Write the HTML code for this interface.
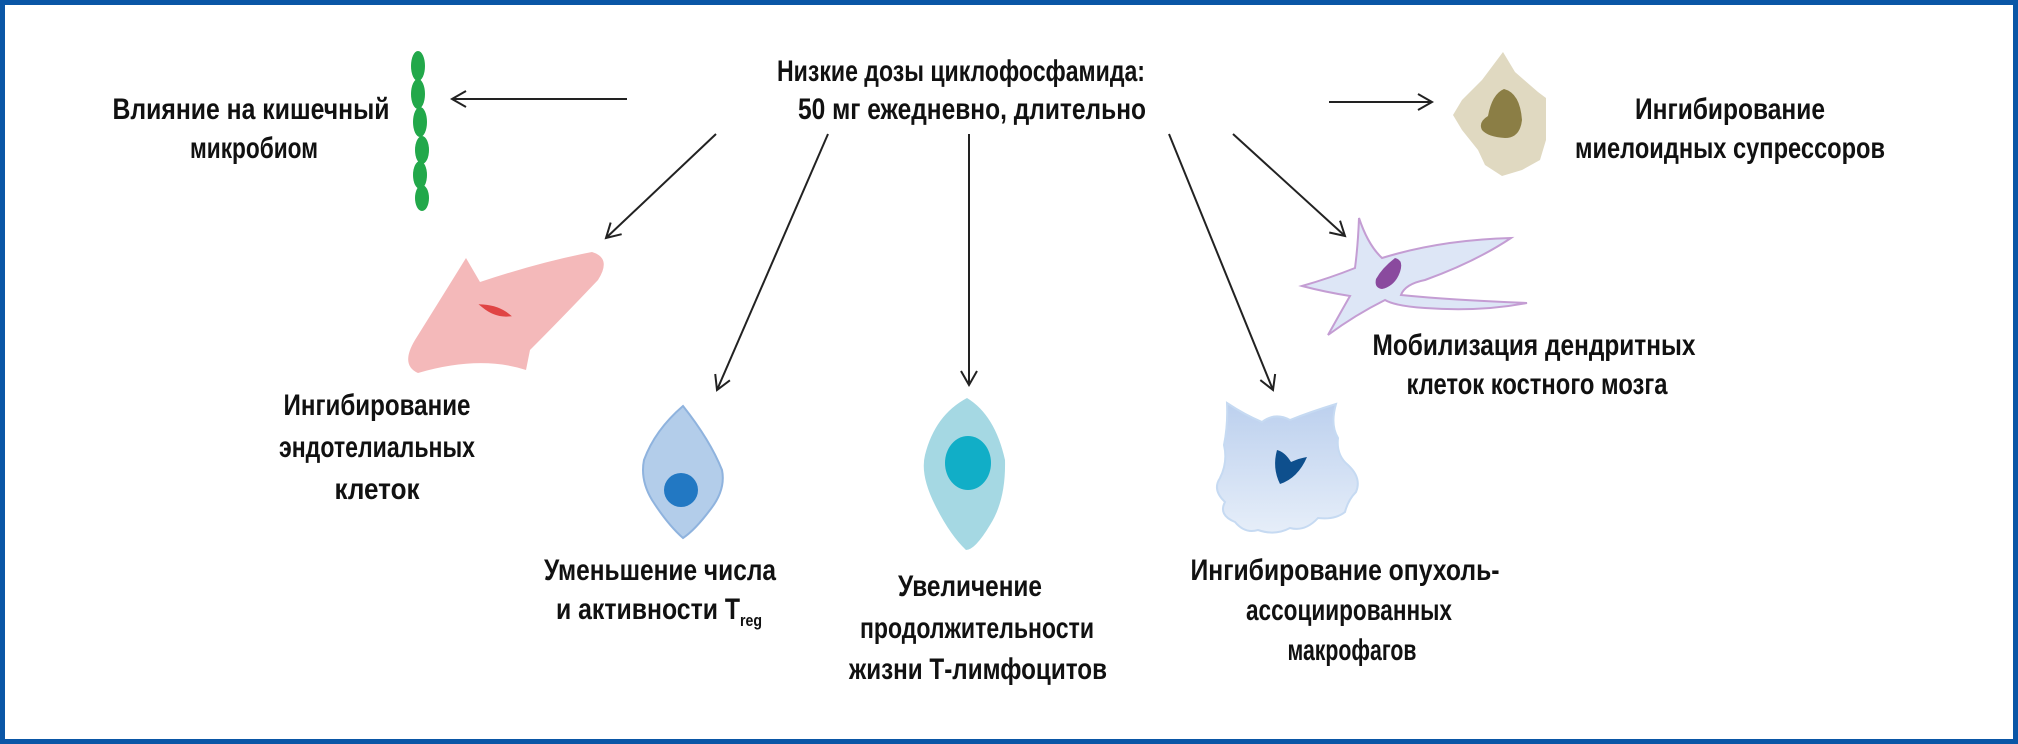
<!DOCTYPE html>
<html><head><meta charset="utf-8"><style>
html,body{margin:0;padding:0;background:#fff}
svg{display:block}
text{font-family:"Liberation Sans",sans-serif;font-weight:bold;font-size:30px;fill:#111}
</style></head><body>
<svg width="2018" height="744" viewBox="0 0 2018 744" xmlns="http://www.w3.org/2000/svg">
<defs>
<marker id="ah" markerWidth="20" markerHeight="20" refX="16" refY="10" orient="auto" markerUnits="userSpaceOnUse">
<path d="M2,2 L16,10 L2,18" fill="none" stroke="#222" stroke-width="2"/>
</marker>
<linearGradient id="tam" x1="0" y1="0" x2="0" y2="1"><stop offset="0" stop-color="#bcd0ee"/><stop offset="1" stop-color="#e6eef9"/></linearGradient>
</defs>
<rect x="2.5" y="2.5" width="2013" height="739" fill="#fff" stroke="#0a56a6" stroke-width="5"/>

<g stroke="#222" stroke-width="2" fill="none" marker-end="url(#ah)">
<line x1="627" y1="99" x2="452" y2="99"/>
<line x1="1329" y1="102" x2="1432" y2="102"/>
<line x1="716" y1="134" x2="606" y2="238"/>
<line x1="828" y1="134" x2="717" y2="390"/>
<line x1="969" y1="134" x2="969" y2="385"/>
<line x1="1169" y1="134" x2="1273" y2="390"/>
<line x1="1233" y1="134" x2="1345" y2="236"/>
</g>

<g fill="#22a84a">
<ellipse cx="418" cy="66" rx="7" ry="15"/>
<ellipse cx="418" cy="94" rx="7" ry="15"/>
<ellipse cx="420" cy="122" rx="7" ry="15"/>
<ellipse cx="422" cy="150" rx="7" ry="14"/>
<ellipse cx="420" cy="175" rx="7" ry="14"/>
<ellipse cx="422" cy="198" rx="7" ry="13"/>
</g>

<!-- myeloid suppressor -->
<path d="M1503,52 L1515,72 L1538,92 L1546,98 L1546,140 L1540,160 L1522,170 L1502,176 L1485,165 L1478,150 L1462,130 L1453,115 L1462,100 L1482,80 Z" fill="#e0d9c1"/>
<path d="M1504,89 Q1520,93 1522,120 Q1520,138 1505,138 Q1488,137 1482,130 Q1478,122 1488,116 Q1492,94 1504,89 Z" fill="#8b7e45"/>

<!-- endothelial -->
<path d="M466,258 L480,282 Q540,262 592,252 Q612,258 598,280 Q560,320 530,350 L526,370 Q480,355 418,373 Q400,365 415,340 Q440,300 466,258 Z" fill="#f4b9ba"/>
<path d="M483,306 Q498,307 508,315 Q495,316 483,306 Z" fill="#e04444" stroke="#e04444" stroke-width="3"/>

<!-- Treg -->
<path d="M683,406 Q710,440 722,470 Q726,490 710,510 Q695,530 683,538 Q668,525 652,500 Q640,480 644,460 Q655,430 683,406 Z" fill="#b3cdea" stroke="#8fb3de" stroke-width="2"/>
<circle cx="681" cy="490" r="17" fill="#2278c3"/>

<!-- T cell -->
<path d="M967,398 Q995,415 1005,460 Q1006,500 990,525 Q975,550 966,550 Q950,535 935,505 Q920,475 925,455 Q935,415 967,398 Z" fill="#a5d8e3"/>
<ellipse cx="968" cy="463" rx="23" ry="27" fill="#11aec7"/>

<!-- TAM -->
<path d="M1227,403 Q1245,415 1262,422 Q1275,412 1290,420 Q1310,412 1336,404 Q1330,425 1338,438 Q1336,455 1348,465 Q1362,478 1356,492 Q1348,500 1345,512 Q1335,520 1318,518 Q1305,532 1290,528 Q1275,536 1258,530 Q1245,534 1235,522 Q1218,515 1225,502 Q1212,490 1220,478 Q1228,462 1224,445 Q1228,425 1227,403 Z" fill="url(#tam)" stroke="#c6daf2" stroke-width="2"/>
<path d="M1277,450 Q1285,452 1291,462 Q1300,458 1307,457 Q1298,478 1280,484 Q1272,468 1277,450 Z" fill="#0e4f8d"/>

<!-- dendritic -->
<path d="M1359,218 Q1368,245 1382,258 Q1440,240 1511,238 Q1475,262 1425,280 Q1405,284 1401,295 Q1450,300 1527,303 Q1480,312 1425,308 Q1395,306 1385,300 Q1355,315 1328,335 Q1342,310 1350,296 Q1325,292 1302,286 Q1330,278 1355,268 Q1358,245 1359,218 Z" fill="#dde6f6" stroke="#c49dd3" stroke-width="2"/>
<path d="M1395,258 Q1404,260 1400,272 Q1395,286 1382,289 Q1374,288 1376,279 Q1382,268 1395,258 Z" fill="#8a4a9e"/>

<g text-anchor="middle">
<text x="961" y="81" textLength="368" lengthAdjust="spacingAndGlyphs">Низкие дозы циклофосфамида:</text>
<text x="972" y="119" textLength="348" lengthAdjust="spacingAndGlyphs">50 мг ежедневно, длительно</text>
<text x="251" y="119" textLength="277" lengthAdjust="spacingAndGlyphs">Влияние на кишечный</text>
<text x="254" y="158" textLength="128" lengthAdjust="spacingAndGlyphs">микробиом</text>
<text x="1730" y="119" textLength="190" lengthAdjust="spacingAndGlyphs">Ингибирование</text>
<text x="1730" y="158" textLength="310" lengthAdjust="spacingAndGlyphs">миелоидных супрессоров</text>
<text x="377" y="415" textLength="187" lengthAdjust="spacingAndGlyphs">Ингибирование</text>
<text x="377" y="457" textLength="196" lengthAdjust="spacingAndGlyphs">эндотелиальных</text>
<text x="377" y="499" textLength="85" lengthAdjust="spacingAndGlyphs">клеток</text>
<text x="660" y="580" textLength="232" lengthAdjust="spacingAndGlyphs">Уменьшение числа</text>
<text x="970" y="596" textLength="144" lengthAdjust="spacingAndGlyphs">Увеличение</text>
<text x="977" y="638" textLength="234" lengthAdjust="spacingAndGlyphs">продолжительности</text>
<text x="978" y="679" textLength="258" lengthAdjust="spacingAndGlyphs">жизни Т-лимфоцитов</text>
<text x="1345" y="580" textLength="309" lengthAdjust="spacingAndGlyphs">Ингибирование опухоль-</text>
<text x="1349" y="620" textLength="206" lengthAdjust="spacingAndGlyphs">ассоциированных</text>
<text x="1352" y="660" textLength="129" lengthAdjust="spacingAndGlyphs">макрофагов</text>
<text x="1534" y="355" textLength="323" lengthAdjust="spacingAndGlyphs">Мобилизация дендритных</text>
<text x="1537" y="394" textLength="261" lengthAdjust="spacingAndGlyphs">клеток костного мозга</text>
</g>
<text x="556" y="619" textLength="184" lengthAdjust="spacingAndGlyphs">и активности T</text>
<text x="740" y="626" style="font-size:17px" textLength="22" lengthAdjust="spacingAndGlyphs">reg</text>
</svg>
</body></html>
